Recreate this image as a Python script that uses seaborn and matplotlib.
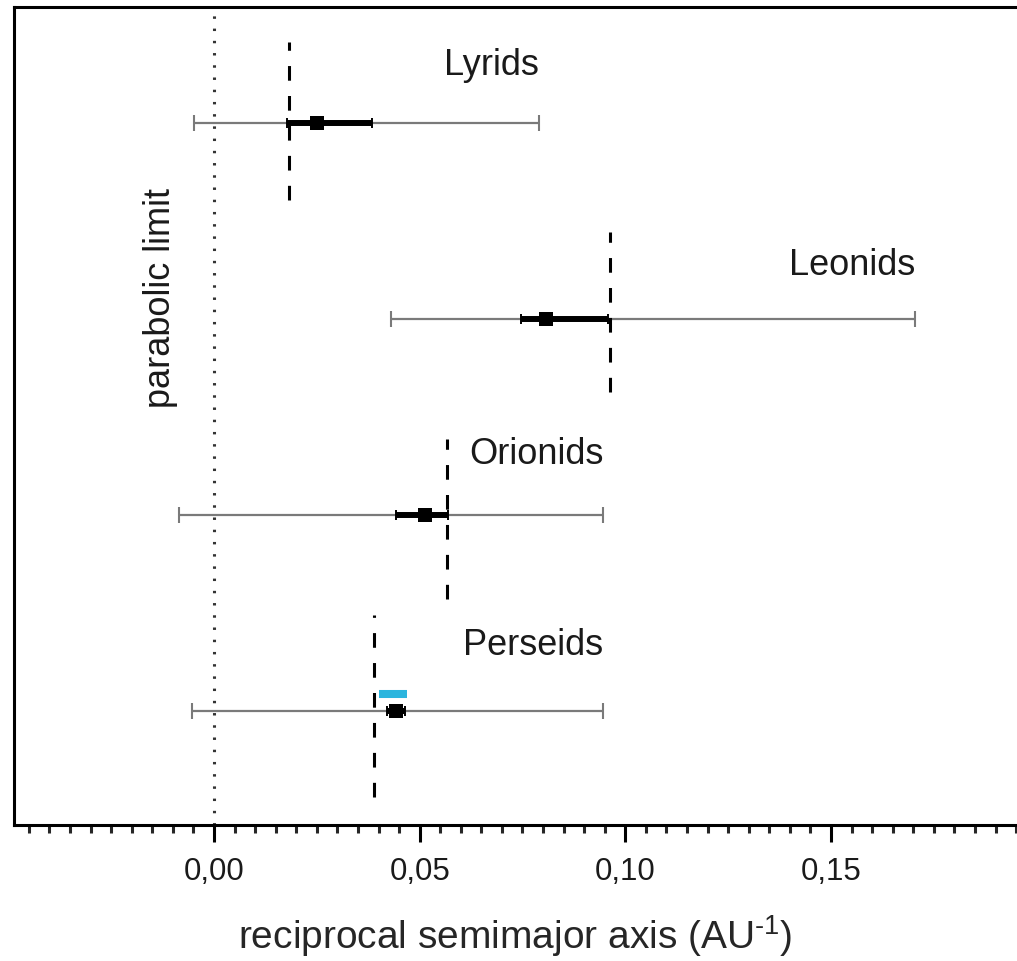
import matplotlib
matplotlib.use("Agg")
import matplotlib.pyplot as plt
from matplotlib.ticker import MultipleLocator, FuncFormatter
import numpy as np
import pandas as pd
import seaborn as sns

# meteor showers, reciprocal semimajor axis (1/AU)
showers = ["Lyrids", "Leonids", "Orionids", "Perseids"]
row = [4, 3, 2, 1]
center = [0.0250, 0.0807, 0.0513, 0.0442]
thin_lo = [-0.0049, 0.0430, -0.0085, -0.0053]
thin_hi = [0.0790, 0.1704, 0.0946, 0.0946]
thick_lo = [0.0177, 0.0746, 0.0442, 0.0421]
thick_hi = [0.0384, 0.0958, 0.0569, 0.0464]
parent = [0.0182, 0.0963, 0.0566, 0.0389]   # dashed lines (parent comet)
blue_lo, blue_hi = 0.0401, 0.0469           # extra estimate for Perseids

df = pd.DataFrame({"shower": showers, "row": row, "x": center,
                   "lo": thin_lo, "hi": thin_hi, "tlo": thick_lo, "thi": thick_hi,
                   "parent": parent})

# layout bits
dash_up = [0.413, 0.444, 0.388, 0.49]
dash_dn = [0.393, 0.372, 0.429, 0.439]
label_off = [0.245, 0.224, 0.26, 0.286]

sns.set_style("ticks")
plt.rcParams["font.family"] = ["Liberation Sans", "DejaVu Sans"]
plt.rcParams["mathtext.fontset"] = "custom"
plt.rcParams["mathtext.rm"] = "Liberation Sans"
plt.rcParams["text.color"] = "#1a1a1a"

fig = plt.figure(figsize=(10.17, 9.61), dpi=100)
ax = fig.add_axes([14/1017, 136/961, 1 - 14/1017, 818/961])

# parabolic limit
ax.axvline(0, color="#333333", lw=2.2, ls=(0, (0.8, 3.2)), zorder=1)

# wide interval
ax.errorbar(df["x"], df["row"], xerr=[df["x"] - df["lo"], df["hi"] - df["x"]],
            fmt="none", ecolor="#7a7a7a", elinewidth=1.6, capsize=5.8,
            capthick=1.5, zorder=2)
# narrow interval
ax.errorbar(df["x"], df["row"], xerr=[df["x"] - df["tlo"], df["thi"] - df["x"]],
            fmt="none", ecolor="black", elinewidth=4.3, capsize=3.4,
            capthick=1.4, zorder=3)
sns.scatterplot(data=df, x="x", y="row", marker="s", s=90, color="black",
                edgecolor="black", linewidth=0, ax=ax, zorder=4)

for i in range(len(df)):
    r = df["row"][i]
    ax.plot([df["parent"][i]] * 2, [r - dash_dn[i], r + dash_up[i]],
            color="black", lw=2.2, ls=(0, (4.8, 5.0)), zorder=3)
    ax.text(df["hi"][i], r + label_off[i], df["shower"][i], ha="right",
            va="baseline", fontsize=26)

ax.hlines(1.087, blue_lo, blue_hi, color="#2bb5de", lw=5.8, zorder=5)

ax.text(-0.0131, 3.107, "parabolic limit", rotation=90, ha="center",
        va="center", fontsize=26)

ax.set_xlim(-0.0486, 0.1952)
ax.set_ylim(0.4184, 4.5918)
ax.xaxis.set_major_locator(MultipleLocator(0.05))
ax.xaxis.set_minor_locator(MultipleLocator(0.005))
ax.xaxis.set_major_formatter(FuncFormatter(lambda v, p: f"{v:.2f}".replace(".", ",")))
ax.tick_params(axis="x", which="major", length=12, width=2.2, pad=11,
               labelsize=22.5, direction="out", colors="black", labelcolor="#1a1a1a")
ax.tick_params(axis="x", which="minor", length=5.8, width=2.2, direction="out")
ax.set_yticks([])
ax.set_xlabel(r"reciprocal semimajor axis (AU$^{\text{-1}}$)", fontsize=28, labelpad=19)
ax.set_ylabel("")

for side in ["left", "top", "bottom"]:
    ax.spines[side].set_linewidth(2.2)
    ax.spines[side].set_color("black")
ax.spines["right"].set_visible(False)

plt.savefig("out.png", dpi=100)
